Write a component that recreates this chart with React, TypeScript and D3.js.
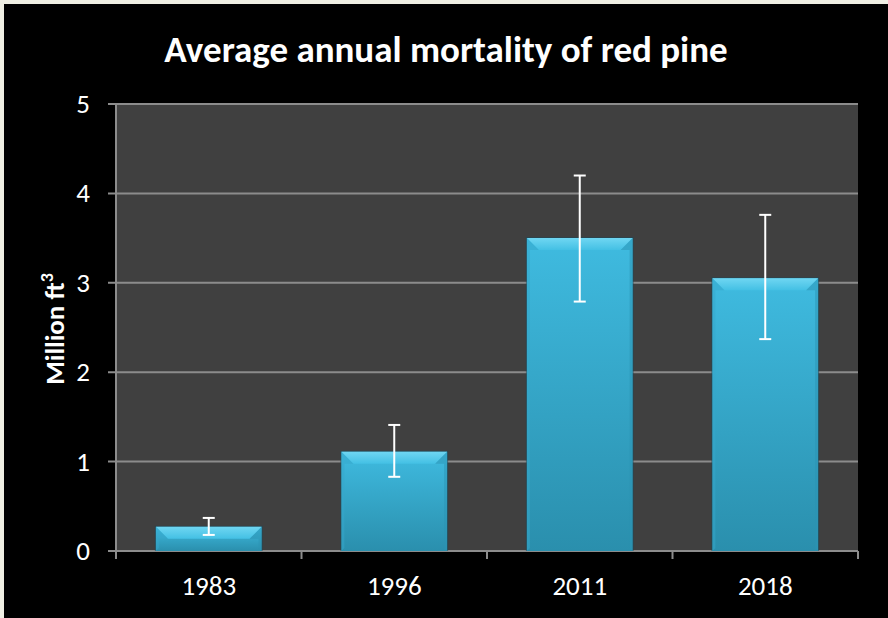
import * as d3 from 'd3'
import * as React from 'react'

const years: string[] = ['1983', '1996', '2011', '2018']
const mortality: number[] = [0.27, 1.11, 3.5, 3.05]
const errLow: number[] = [0.18, 0.83, 2.79, 2.37]
const errHigh: number[] = [0.37, 1.41, 4.2, 3.76]
const yTicks: number[] = [0, 1, 2, 3, 4, 5]

const W = 888
const H = 618
const font = 'Calibri, Carlito, "Open Sans", "Liberation Sans", sans-serif'

export default function App() {
  const left = 116
  const right = 858
  const top = 104
  const bottom = 551

  const x = d3.scaleBand().domain(years).range([left, right]).paddingInner(0.43).paddingOuter(0.215)
  const y = d3.scaleLinear().domain([0, 5]).range([bottom, top])
  const bw = x.bandwidth()
  const bevel = 12

  // tick positions on the category axis (boundaries between bands)
  const step = (right - left) / years.length
  const catTicks = d3.range(years.length + 1).map(i => left + i * step)

  return (
    <svg width={W} height={H} style={{ position: 'absolute', left: 0, top: 0 }}>
      <defs>
        <linearGradient id="barFill" x1="0" y1="0" x2="0" y2="1">
          <stop offset="0%" stopColor="#3fbbe0" />
          <stop offset="100%" stopColor="#2a8fad" />
        </linearGradient>
        <linearGradient id="topBevel" x1="0" y1="0" x2="0" y2="1">
          <stop offset="0%" stopColor="#6fd6f2" />
          <stop offset="100%" stopColor="#43c0e4" />
        </linearGradient>
      </defs>
      <rect x={0} y={0} width={W} height={H} fill="#f0efe4" />
      <rect x={4} y={4} width={W - 4} height={H - 4} fill="#000" />
      <text x={446} y={62} textAnchor="middle" fill="#fff" fontFamily={font} fontWeight="bold" fontSize={37}>
        Average annual mortality of red pine
      </text>
      <rect x={left} y={top} width={right - left} height={bottom - top} fill="#404040" />
      {yTicks.map(t => (
        <g key={t}>
          <line x1={left - 8} x2={right} y1={y(t)} y2={y(t)} stroke="#8c8c8c" strokeWidth={2} />
          <text x={left - 26} y={y(t) + 9} textAnchor="end" fill="#fff" fontFamily={font} fontSize={27}>
            {t}
          </text>
        </g>
      ))}
      <line x1={left} x2={left} y1={top} y2={bottom + 8} stroke="#8c8c8c" strokeWidth={2} />
      {catTicks.map((t, i) => (
        <line key={i} x1={t} x2={t} y1={bottom} y2={bottom + 8} stroke="#8c8c8c" strokeWidth={2} />
      ))}
      {years.map((yr, i) => {
        const bx = x(yr)!
        const by = y(mortality[i])
        const h = bottom - by
        const bv = Math.min(bevel, h / 2)
        return (
          <g key={yr}>
            <rect x={bx - 1} y={by - 1} width={bw + 2} height={h + 1} fill="#1d4a5a" opacity={0.6} />
            <rect x={bx} y={by} width={bw} height={h} fill="url(#barFill)" />
            <polygon
              points={`${bx},${by} ${bx + bw},${by} ${bx + bw - bv},${by + bv} ${bx + bv},${by + bv}`}
              fill="url(#topBevel)"
            />
            <polygon
              points={`${bx + bw},${by} ${bx + bw},${bottom} ${bx + bw - 3},${bottom - 3} ${bx + bw - 3},${by + bv} ${bx + bw - bv},${by + bv}`}
              fill="#2b93b3"
              opacity={0.5}
            />
            <polygon
              points={`${bx},${by} ${bx + bv},${by + bv} ${bx + 3},${by + bv} ${bx + 3},${bottom - 3} ${bx},${bottom}`}
              fill="#35a8cc"
              opacity={0.5}
            />
            <text x={bx + bw / 2} y={bottom + 44} textAnchor="middle" fill="#fff" fontFamily={font} fontSize={27}>
              {yr}
            </text>
          </g>
        )
      })}
      {years.map((yr, i) => {
        const cx = x(yr)! + bw / 2
        return (
          <g key={'e' + yr} stroke="#fff" strokeWidth={2}>
            <line x1={cx} x2={cx} y1={y(errHigh[i])} y2={y(errLow[i])} />
            <line x1={cx - 6} x2={cx + 6} y1={y(errHigh[i])} y2={y(errHigh[i])} />
            <line x1={cx - 6} x2={cx + 6} y1={y(errLow[i])} y2={y(errLow[i])} />
          </g>
        )
      })}
      <text
        transform={`translate(64,329) rotate(-90)`}
        textAnchor="middle"
        fill="#fff"
        fontFamily={font}
        fontWeight="bold"
        fontSize={27}
      >
        Million ft<tspan baselineShift="super" fontSize={18}>3</tspan>
      </text>
    </svg>
  )
}
